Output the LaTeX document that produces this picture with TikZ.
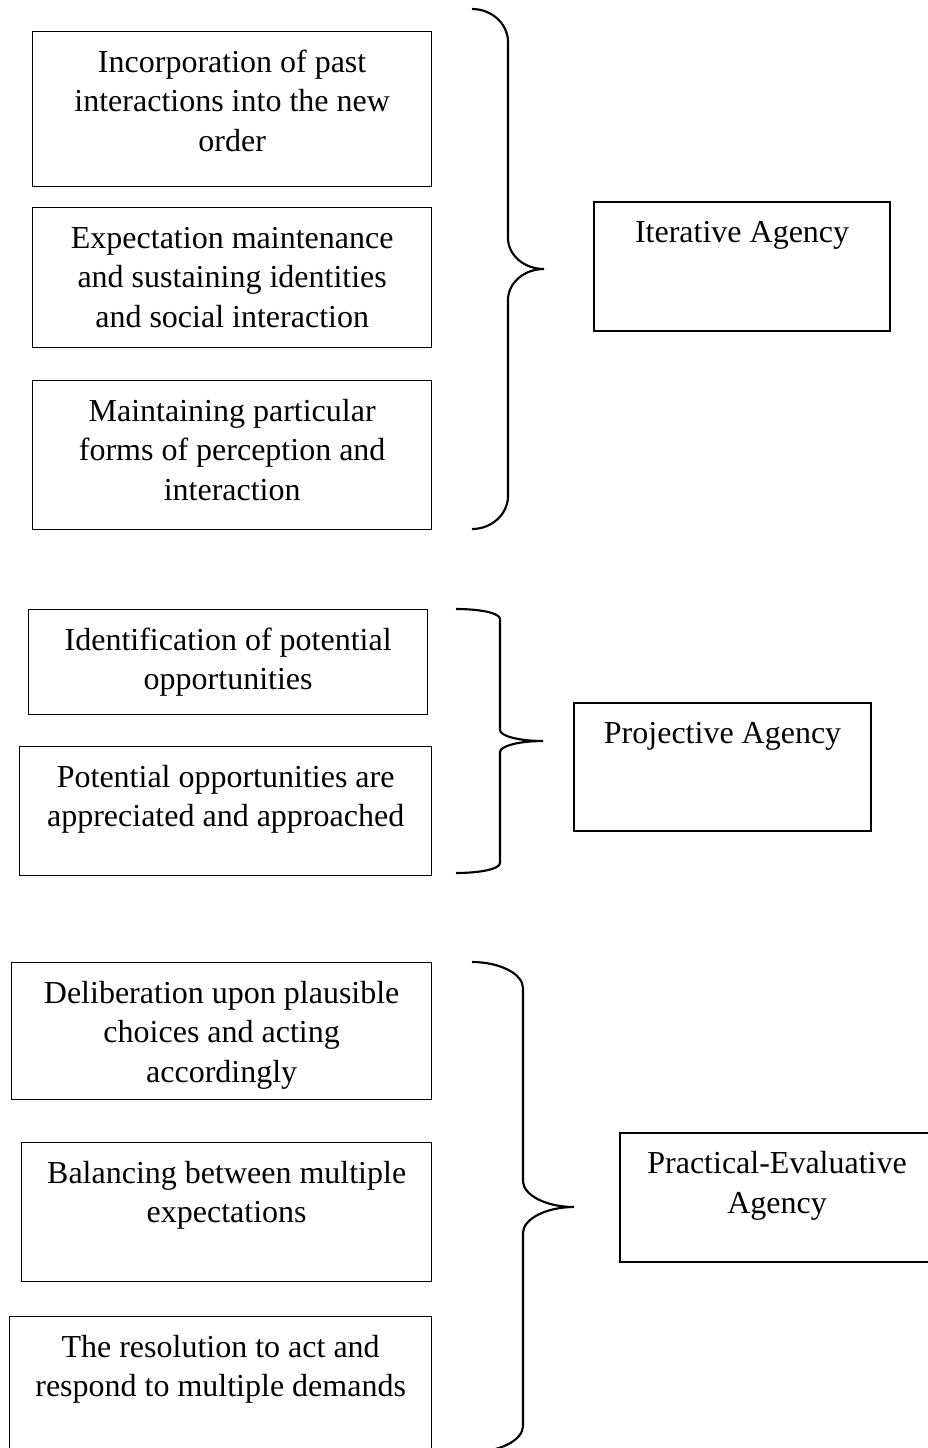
\documentclass[tikz,border=0pt]{standalone}
\usepackage{fontspec}
\setmainfont{Liberation Serif}
\usetikzlibrary{positioning}
\newlength{\pxu}
\setlength{\pxu}{0.375pt}
% text sits at the top of each box
\newcommand{\boxtxt}[3]{\parbox[c][#2\pxu][t]{#1\pxu}{\centering\rule{0pt}{15.3pt}#3}}

\begin{document}
\begin{tikzpicture}[x=0.375pt,y=-0.375pt,
  every node/.style={font=\fontsize{12}{14.8}\selectfont},
  agbox/.style={draw,line width=0.5pt,inner sep=0pt,anchor=north west},
  agency/.style={agbox,line width=0.8pt},
  bracestyle/.style={line width=0.8pt}]

\useasboundingbox (0,0) rectangle (927,1448);

% iterative
\node[agbox] (incorp) at (32,31) {\boxtxt{399}{155}{Incorporation of past\\interactions into the new\\order}};
\node[agbox] (expect) at (32,207) {\boxtxt{399}{140}{Expectation maintenance\\and sustaining identities\\and social interaction}};
\node[agbox] (maint) at (32,380) {\boxtxt{399}{149}{Maintaining particular\\forms of perception and\\interaction}};
\node[agency] (iter) at (593,201) {\boxtxt{296}{129}{Iterative Agency}};
\draw[bracestyle] (472,9) .. controls (492,9) and (508,24) .. (508,42) -- (508,238)
  .. controls (508,255) and (524,269) .. (544,269)
  .. controls (524,269) and (508,283) .. (508,300) -- (508,496)
  .. controls (508,514) and (492,529) .. (472,529);

% projective
\node[agbox] (ident) at (28,609) {\boxtxt{399}{105}{Identification of potential\\opportunities}};
\node[agbox] (apprec) at (19,746) {\boxtxt{412}{129}{Potential opportunities are\\appreciated and approached}};
\node[agency] (proj) at (573,702) {\boxtxt{297}{128}{Projective Agency}};
\draw[bracestyle] (456,609) .. controls (480,609) and (500,613) .. (500,619) -- (500,730)
  .. controls (500,736) and (519,741) .. (543,741)
  .. controls (519,741) and (500,746) .. (500,752) -- (500,863)
  .. controls (500,869) and (480,873) .. (456,873);

% practical-evaluative
\node[agbox] (delib) at (11,962) {\boxtxt{420}{137}{Deliberation upon plausible\\choices and acting\\accordingly}};
\node[agbox] (balance) at (21,1142) {\boxtxt{410}{139}{Balancing between multiple\\expectations}};
\node[agbox] (resol) at (9,1316) {\boxtxt{422}{139}{The resolution to act and\\respond to multiple demands}};
\node[agency] (prac) at (619,1132) {\boxtxt{314}{129}{Practical-Evaluative\\Agency}};
\draw[bracestyle] (472,962) .. controls (500,962) and (523,974) .. (523,988) -- (523,1181)
  .. controls (523,1195) and (546,1207) .. (574,1207)
  .. controls (546,1207) and (523,1219) .. (523,1233) -- (523,1426)
  .. controls (523,1440) and (500,1452) .. (472,1452);
\end{tikzpicture}
\end{document}
